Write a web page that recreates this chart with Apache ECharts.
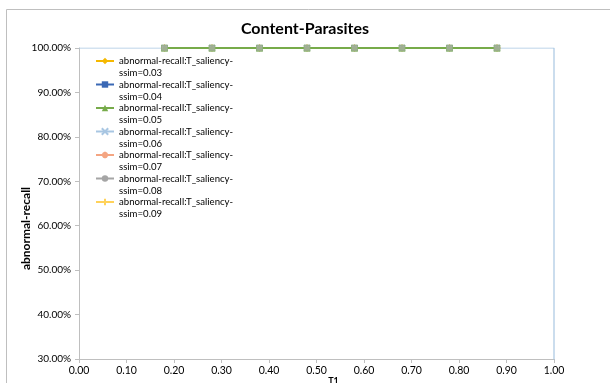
<!DOCTYPE html>
<html><head><meta charset="utf-8">
<script src="https://cdn.jsdelivr.net/npm/echarts@6/dist/echarts.min.js"></script>
<style>html,body{margin:0;padding:0;background:#fff}#c{width:610px;height:383px}</style>
</head><body><div id="c"></div>
<script>
const thresholds = [0.18, 0.28, 0.38, 0.48, 0.58, 0.68, 0.78, 0.88];
const recall003 = [1, 1, 1, 1, 1, 1, 1, 1];
const recall004 = [1, 1, 1, 1, 1, 1, 1, 1];
const recall005 = [1, 1, 1, 1, 1, 1, 1, 1];
const recall006 = [1, 1, 1, 1, 1, 1, 1, 1];
const recall007 = [1, 1, 1, 1, 1, 1, 1, 1];
const recall008 = [1, 1, 1, 1, 1, 1, 1, 1];
const recall009 = [1, 1, 1, 1, 1, 1, 1, 1];
// extra end points of the ssim=0.06 curve
const extra006Start = [[0, 1]];
const extra006End = [[1, 1], [1, 0]];
const seriesNames = ['abnormal-recall:T_saliency-ssim=0.03','abnormal-recall:T_saliency-ssim=0.04','abnormal-recall:T_saliency-ssim=0.05','abnormal-recall:T_saliency-ssim=0.06','abnormal-recall:T_saliency-ssim=0.07','abnormal-recall:T_saliency-ssim=0.08','abnormal-recall:T_saliency-ssim=0.09'];

const pair = v => thresholds.map((t,i)=>[t,v[i]]);
const noMark = pts => pts.map(p => ({value:p, symbol:'none'}));
const crossPath = 'path://M0,0L10,10M10,0L0,10';
const starPath = 'path://M5,0L5,10M0,5L10,5M1.5,1.5L8.5,8.5M8.5,1.5L1.5,8.5';
const plusPath = 'path://M5,0L5,10M0,5L10,5';
const font = 'Lato, "Liberation Sans", sans-serif';

function mk(name, data, color, symbol, size, z, lw) {
  return {
    name, type:'line', data, z,
    symbol, symbolSize:size, showSymbol:true,
    lineStyle:{color, width:lw||2},
    itemStyle:{color, borderColor:color, borderWidth: symbol.indexOf('path')===0 ? 1.2 : 0},
    clip:true, animation:false
  };
}

const series = [
  mk(seriesNames[0], pair(recall003), '#F5B800', 'diamond', 7, 2),
  mk(seriesNames[1], pair(recall004), '#3A68B5', 'rect', 6, 2),
  mk(seriesNames[2], pair(recall005), '#77AB4A', 'triangle', 7, 5),
  mk(seriesNames[3], noMark(extra006Start).concat(pair(recall006), noMark(extra006End)), '#A8C6E2', crossPath, 6, 1, 1.2),
  mk(seriesNames[4], pair(recall007), '#F4A582', starPath, 7, 2),
  mk(seriesNames[5], pair(recall008), '#A5A5A5', 'circle', 6, 3),
  mk(seriesNames[6], pair(recall009), '#FFD25A', plusPath, 6, 2, 1.2)
];
// grey-green square markers visible on top at the data points
series.push({
  type:'scatter', data: pair(recall008), symbol:'rect', symbolSize:6, z:7,
  itemStyle:{color:'#A9B0A4', borderColor:'#8FB07A', borderWidth:1}, silent:true, animation:false
});

const chart = echarts.init(document.getElementById('c'), null, {renderer:'canvas'});
chart.setOption({
  backgroundColor:'#fff',
  animation:false,
  textStyle:{fontFamily:font},
  title:{text:'Content-Parasites', left:'center', top:16, textStyle:{fontFamily:font, fontSize:16, fontWeight:'bold', color:'#000'}},
  graphic:[{type:'rect', shape:{x:6.5, y:9.5, width:700, height:500}, style:{fill:null, stroke:'#BFBFBF', lineWidth:1}, silent:true, z:-1}],
  grid:{left:79, right:56, top:48, bottom:24, containLabel:false, outerBoundsMode:'none'},
  legend:{
    data:seriesNames, orient:'vertical', left:90, top:38, itemWidth:18, itemHeight:8, itemGap:-12.5,
    formatter: function(n){ return ' \n' + n.replace('ssim=', '\nssim='); },
    textStyle:{fontFamily:font, fontSize:9.6, color:'#000', lineHeight:12},
    selectedMode:false
  },
  xAxis:{
    type:'value', min:0, max:1, interval:0.1,
    name:'T1', nameLocation:'middle', nameGap:18, nameMoveOverlap:false,
    nameTextStyle:{fontFamily:font, fontSize:9, fontWeight:'bold', color:'#000', padding:[0,0,0,34]},
    axisLine:{show:true, lineStyle:{color:'#BFBFBF'}},
    axisTick:{show:true, length:4, inside:false, lineStyle:{color:'#BFBFBF'}},
    axisLabel:{fontFamily:font, fontSize:10.5, color:'#000', margin:6, formatter:function(v){return v.toFixed(2);}},
    splitLine:{show:false}
  },
  yAxis:{
    type:'value', min:0.3, max:1.0, interval:0.1,
    name:'abnormal-recall', nameLocation:'middle', nameGap:47, nameRotate:90, nameMoveOverlap:false,
    nameTextStyle:{fontFamily:font, fontSize:12, fontWeight:'bold', color:'#000', padding:[0,50,0,0]},
    axisLine:{show:true, lineStyle:{color:'#BFBFBF'}},
    axisTick:{show:true, length:4, lineStyle:{color:'#BFBFBF'}},
    axisLabel:{fontFamily:font, fontSize:10, color:'#000', margin:8, formatter:function(v){return (v*100).toFixed(2)+'%';}},
    splitLine:{show:false}
  },
  series:series
});
</script></body></html>
